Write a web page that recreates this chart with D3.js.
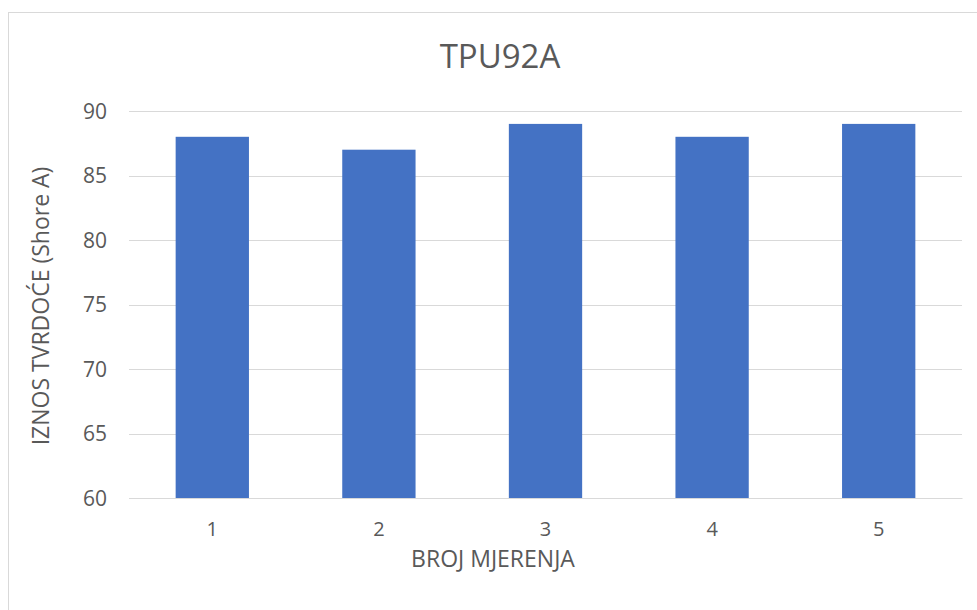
<!DOCTYPE html>
<html><head><meta charset="utf-8">
<script src="https://cdn.jsdelivr.net/npm/d3@7"></script>
<style>
html,body{margin:0;padding:0;background:#fff;}
text{font-family:"Open Sans","Noto Sans",sans-serif;fill:#595959;}
</style></head>
<body>
<svg id="c" width="977" height="610"></svg>
<script>
const categories = ["1","2","3","4","5"];
const values = [88, 87, 89, 88, 89];
const yTicks = [60, 65, 70, 75, 80, 85, 90];
const titleText = "TPU92A";
const xTitle = "BROJ MJERENJA";
const yTitle = "IZNOS TVRDOĆE (Shore A)";

const svg = d3.select("#c");
svg.append("rect").attr("x", 8.5).attr("y", 12.5).attr("width", 1000).attr("height", 700)
  .attr("fill", "#fff").attr("stroke", "#d9d9d9").attr("stroke-width", 1);

const m = {left: 129, right: 962, top: 111, bottom: 498};
const x = d3.scaleBand().domain(categories).range([m.left, m.right]).paddingInner(0.56).paddingOuter(0.28);
const y = d3.scaleLinear().domain([60, 90]).range([m.bottom, m.top]);

// gridlines
svg.append("g").selectAll("line").data(yTicks).join("line")
  .attr("x1", m.left).attr("x2", m.right)
  .attr("y1", d => Math.round(y(d)) + 0.5).attr("y2", d => Math.round(y(d)) + 0.5)
  .attr("stroke", "#d9d9d9").attr("stroke-width", 1);

// bars
svg.append("g").selectAll("rect").data(values).join("rect")
  .attr("x", (d, i) => x(categories[i]))
  .attr("width", x.bandwidth())
  .attr("y", d => y(d))
  .attr("height", d => y(60) - y(d))
  .attr("fill", "#4472c4");

// y axis labels
const yAxis = d3.axisLeft(y).tickValues(yTicks).tickSize(0).tickPadding(0);
const gy = svg.append("g").attr("transform", `translate(107,0)`).call(yAxis);
gy.select(".domain").remove();
gy.selectAll("text").attr("font-size", 21).attr("font-family", null).attr("fill", "#595959").attr("dy", "0.35em");

// x axis
const xAxis = d3.axisBottom(x).tickSize(0).tickPadding(0);
const gx = svg.append("g").attr("transform", `translate(0,${m.bottom})`).call(xAxis);
gx.select(".domain").attr("stroke", "#d9d9d9");
gx.selectAll("text").attr("font-size", 20).attr("font-family", null).attr("fill", "#595959").attr("y", 38).attr("dy", 0);

// title
svg.append("text").attr("x", 500).attr("y", 68).attr("text-anchor", "middle")
  .attr("font-size", 33).text(titleText);

svg.append("text").attr("x", 493).attr("y", 567).attr("text-anchor", "middle")
  .attr("font-size", 23).text(xTitle);

svg.append("text").attr("transform", "translate(49,306) rotate(-90)").attr("text-anchor", "middle")
  .attr("font-size", 23).text(yTitle);
</script>
</body></html>
